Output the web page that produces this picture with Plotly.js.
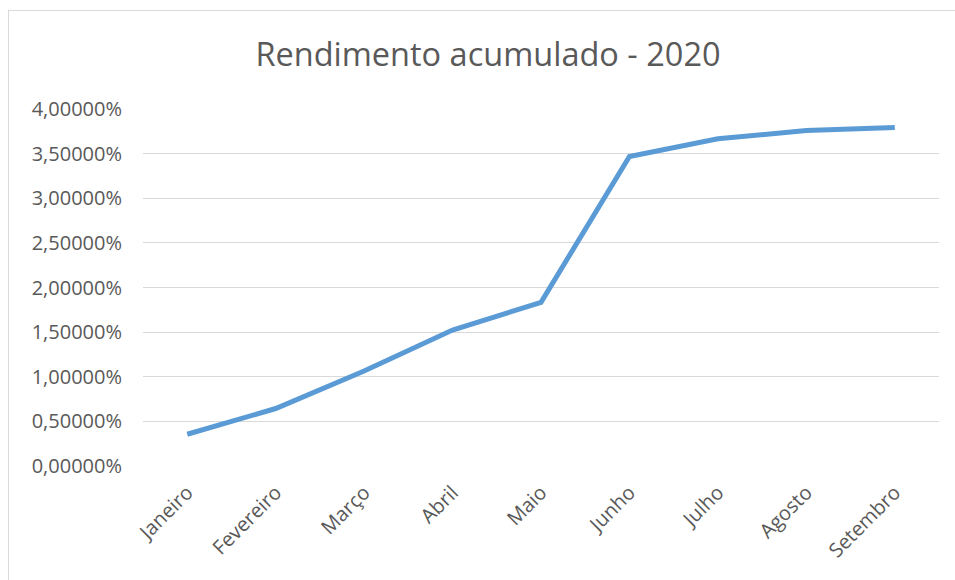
<!DOCTYPE html>
<html>
<head>
<meta charset="utf-8">
<script src="https://cdn.plot.ly/plotly-3.0.1.min.js"></script>
<style>
  html, body { margin: 0; padding: 0; background: #fff; overflow: hidden; }
  #wrap { position: relative; width: 955px; height: 580px; }
  #chart { width: 955px; height: 580px; }
  #frame { position: absolute; left: 8px; top: 10px; width: 960px; height: 580px; border: 1px solid #d9d9d9; pointer-events: none; }
</style>
</head>
<body>
<div id="wrap">
  <div id="chart"></div>
  <div id="frame"></div>
</div>
<script>
const months = ["Janeiro", "Fevereiro", "Março", "Abril", "Maio", "Junho", "Julho", "Agosto", "Setembro"];
const rendimento = [0.356, 0.644, 1.065, 1.523, 1.834, 3.468, 3.667, 3.758, 3.793];
const yTicks = [0, 0.5, 1, 1.5, 2, 2.5, 3, 3.5, 4];
const yTickLabels = ["0,00000%", "0,50000%", "1,00000%", "1,50000%", "2,00000%", "2,50000%", "3,00000%", "3,50000%", "4,00000%"];
const titleText = "Rendimento acumulado - 2020";

const trace = {
  x: months,
  y: rendimento,
  type: "scatter",
  mode: "lines",
  line: { color: "#5B9BD5", width: 5, shape: "linear" },
  hoverinfo: "x+y"
};

const layout = {
  width: 955,
  height: 580,
  margin: { l: 143, r: 16, t: 109, b: 114 },
  paper_bgcolor: "rgba(0,0,0,0)",
  plot_bgcolor: "#ffffff",
  separators: ",.",
  showlegend: false,
  title: {
    text: titleText,
    font: { family: "Open Sans, sans-serif", size: 32.5, color: "#595959" },
    x: 0.511,
    xanchor: "center",
    y: 0.905,
    yanchor: "middle"
  },
  xaxis: {
    type: "category",
    range: [-0.5, 8.5],
    showgrid: false,
    zeroline: false,
    showline: false,
    ticks: "",
    tickangle: -45,
    ticklabelstandoff: 10,
    tickfont: { family: "Open Sans, sans-serif", size: 20, color: "#595959" },
    fixedrange: true
  },
  yaxis: {
    range: [0, 4],
    tickmode: "array",
    tickvals: yTicks,
    ticktext: yTickLabels,
    showgrid: true,
    gridcolor: "#d9d9d9",
    gridwidth: 1,
    zeroline: false,
    showline: false,
    ticks: "",
    ticklabelstandoff: 20,
    tickfont: { family: "Open Sans, sans-serif", size: 20, color: "#595959" },
    fixedrange: true
  }
};

Plotly.newPlot("chart", [trace], layout, { displayModeBar: false, staticPlot: true });
</script>
</body>
</html>
